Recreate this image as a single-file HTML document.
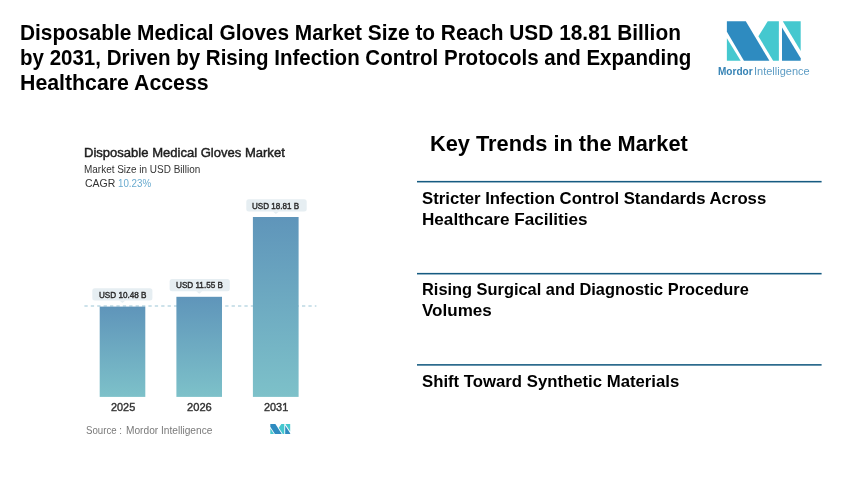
<!DOCTYPE html>
<html><head><meta charset="utf-8"><title>Disposable Medical Gloves Market</title>
<style>
html,body{margin:0;padding:0;background:#fff;}
body{width:860px;height:488px;position:relative;overflow:hidden;font-family:"Liberation Sans",sans-serif;}
.t{position:absolute;white-space:nowrap;line-height:1;transform-origin:0 0;}
</style></head><body>

<svg style="position:absolute;left:0;top:0" width="860" height="488" viewBox="0 0 860 488">
<defs><linearGradient id="bg" x1="0" y1="0" x2="0" y2="1"><stop offset="0" stop-color="#5f95ba"/><stop offset="1" stop-color="#7dc1c9"/></linearGradient></defs>
<rect x="417" y="180.9" width="404.6" height="1.55" fill="#165b81"/><rect x="417" y="272.9" width="404.6" height="1.55" fill="#165b81"/><rect x="417" y="364.1" width="404.6" height="1.55" fill="#165b81"/>
<line x1="84.4" y1="306" x2="316.4" y2="306" stroke="#9cc6d6" stroke-width="1.2" stroke-dasharray="3.3 3.1"/>
<rect x="99.7" y="306.6" width="45.60" height="90.30" fill="url(#bg)"/>
<rect x="176.4" y="296.8" width="45.60" height="100.10" fill="url(#bg)"/>
<rect x="252.9" y="217.0" width="45.70" height="179.90" fill="url(#bg)"/>
<rect x="92.3" y="288.2" width="60.10" height="12.30" rx="2.5" fill="#e6eef2"/><polygon fill="#e6eef2" points="119.4,300.4 125.4,300.4 122.4,302.9"/>
<rect x="169.6" y="279.0" width="60.20" height="12.30" rx="2.5" fill="#e6eef2"/><polygon fill="#e6eef2" points="196.2,291.2 202.2,291.2 199.2,293.7"/>
<rect x="246.3" y="199.3" width="60.40" height="12.30" rx="2.5" fill="#e6eef2"/><polygon fill="#e6eef2" points="272.9,211.5 278.9,211.5 275.9,214.0"/>
<g id="logo" transform="translate(726.9,21.2) scale(0.09840,0.09851)">
<polygon fill="#2e8bc0" points="0,0 192,0 432,402 173,402 0,107"/>
<polygon fill="#45c8cf" points="0,172 0,402 140,402"/>
<polygon fill="#45c8cf" points="415,0 528,0 528,402 470,402 320,152"/>
<polygon fill="#2e8bc0" points="560,65 750,375 750,402 560,402"/>
<polygon fill="#45c8cf" points="568,0 750,0 750,302"/>
</g>
<g id="logo2" transform="translate(270.3,424.0) scale(0.02653,0.02488)">
<polygon fill="#2e8bc0" points="0,0 192,0 432,402 173,402 0,107"/>
<polygon fill="#45c8cf" points="0,172 0,402 140,402"/>
<polygon fill="#45c8cf" points="415,0 528,0 528,402 470,402 320,152"/>
<polygon fill="#2e8bc0" points="560,65 750,375 750,402 560,402"/>
<polygon fill="#45c8cf" points="568,0 750,0 750,302"/>
</g>
</svg>
<div class="t" id="h1" style="left:19.70px;top:22.00px;font-size:22px;font-weight:bold;color:#000;transform:scaleX(0.9483);">Disposable Medical Gloves Market Size to Reach USD 18.81 Billion</div>
<div class="t" id="h2" style="left:19.72px;top:47.00px;font-size:22px;font-weight:bold;color:#000;transform:scaleX(0.9323);">by 2031, Driven by Rising Infection Control Protocols and Expanding</div>
<div class="t" id="h3" style="left:19.69px;top:72.00px;font-size:22px;font-weight:bold;color:#000;transform:scaleX(0.9679);">Healthcare Access</div>
<div class="t" id="kt" style="left:430.08px;top:133.00px;font-size:22px;font-weight:bold;color:#000;transform:scaleX(0.9899);">Key Trends in the Market</div>
<div class="t" id="k1" style="left:422.32px;top:190.00px;font-size:16.5px;font-weight:bold;color:#000;transform:scaleX(1.0138);">Stricter Infection Control Standards Across</div>
<div class="t" id="k2" style="left:422.49px;top:211.00px;font-size:16.5px;font-weight:bold;color:#000;transform:scaleX(1.0368);">Healthcare Facilities</div>
<div class="t" id="k3" style="left:422.36px;top:281.00px;font-size:16.5px;font-weight:bold;color:#000;transform:scaleX(0.9928);">Rising Surgical and Diagnostic Procedure</div>
<div class="t" id="k4" style="left:422.04px;top:302.00px;font-size:16.5px;font-weight:bold;color:#000;transform:scaleX(1.0324);">Volumes</div>
<div class="t" id="k5" style="left:421.84px;top:373.00px;font-size:16.5px;font-weight:bold;color:#000;transform:scaleX(1.0141);">Shift Toward Synthetic Materials</div>
<div class="t" id="lg1" style="left:718.00px;top:66.00px;font-size:10.6px;font-weight:bold;color:#3683b5;transform:scaleX(0.9475);">Mordor</div>
<div class="t" id="lg2" style="left:754.07px;top:66.00px;font-size:10.6px;font-weight:normal;color:#5d9cc4;transform:scaleX(1.0389);">Intelligence</div>
<div class="t" id="ct" style="left:84.47px;top:146.00px;font-size:13px;font-weight:normal;color:#1e1e1e;transform:scaleX(1.0031);-webkit-text-stroke:0.45px #1e1e1e;">Disposable Medical Gloves Market</div>
<div class="t" id="cs" style="left:84.35px;top:165.00px;font-size:10px;font-weight:normal;color:#333;transform:scaleX(0.9958);">Market Size in USD Billion</div>
<div class="t" id="cg" style="left:84.92px;top:179.00px;font-size:10.4px;font-weight:normal;color:#333;transform:scaleX(1.0086);">CAGR</div>
<div class="t" id="cp" style="left:118.28px;top:179.00px;font-size:10.2px;font-weight:normal;color:#6aabcf;transform:scaleX(0.9574);">10.23%</div>
<div class="t" id="v1" style="left:99.20px;top:291.00px;font-size:8.7px;font-weight:normal;color:#2a2a2a;transform:scaleX(0.9355);-webkit-text-stroke:0.4px #2a2a2a;">USD 10.48 B</div>
<div class="t" id="v2" style="left:176.00px;top:281.00px;font-size:8.7px;font-weight:normal;color:#2a2a2a;transform:scaleX(0.9368);-webkit-text-stroke:0.4px #2a2a2a;">USD 11.55 B</div>
<div class="t" id="v3" style="left:252.27px;top:202.00px;font-size:8.7px;font-weight:normal;color:#2a2a2a;transform:scaleX(0.9286);-webkit-text-stroke:0.4px #2a2a2a;">USD 18.81 B</div>
<div class="t" id="y1" style="left:110.70px;top:402.00px;font-size:11.2px;font-weight:normal;color:#333;transform:scaleX(0.9723);-webkit-text-stroke:0.4px #333;">2025</div>
<div class="t" id="y2" style="left:186.87px;top:402.00px;font-size:11.2px;font-weight:normal;color:#333;transform:scaleX(0.9950);-webkit-text-stroke:0.4px #333;">2026</div>
<div class="t" id="y3" style="left:263.90px;top:402.00px;font-size:11.2px;font-weight:normal;color:#333;transform:scaleX(0.9723);-webkit-text-stroke:0.4px #333;">2031</div>
<div class="t" id="sr" style="left:85.75px;top:426.00px;font-size:10px;font-weight:normal;color:#7a7a7a;transform:scaleX(0.9663);">Source :</div>
<div class="t" id="sr2" style="left:125.99px;top:426.00px;font-size:10px;font-weight:normal;color:#7a7a7a;transform:scaleX(1.0155);">Mordor Intelligence</div>
</body></html>
